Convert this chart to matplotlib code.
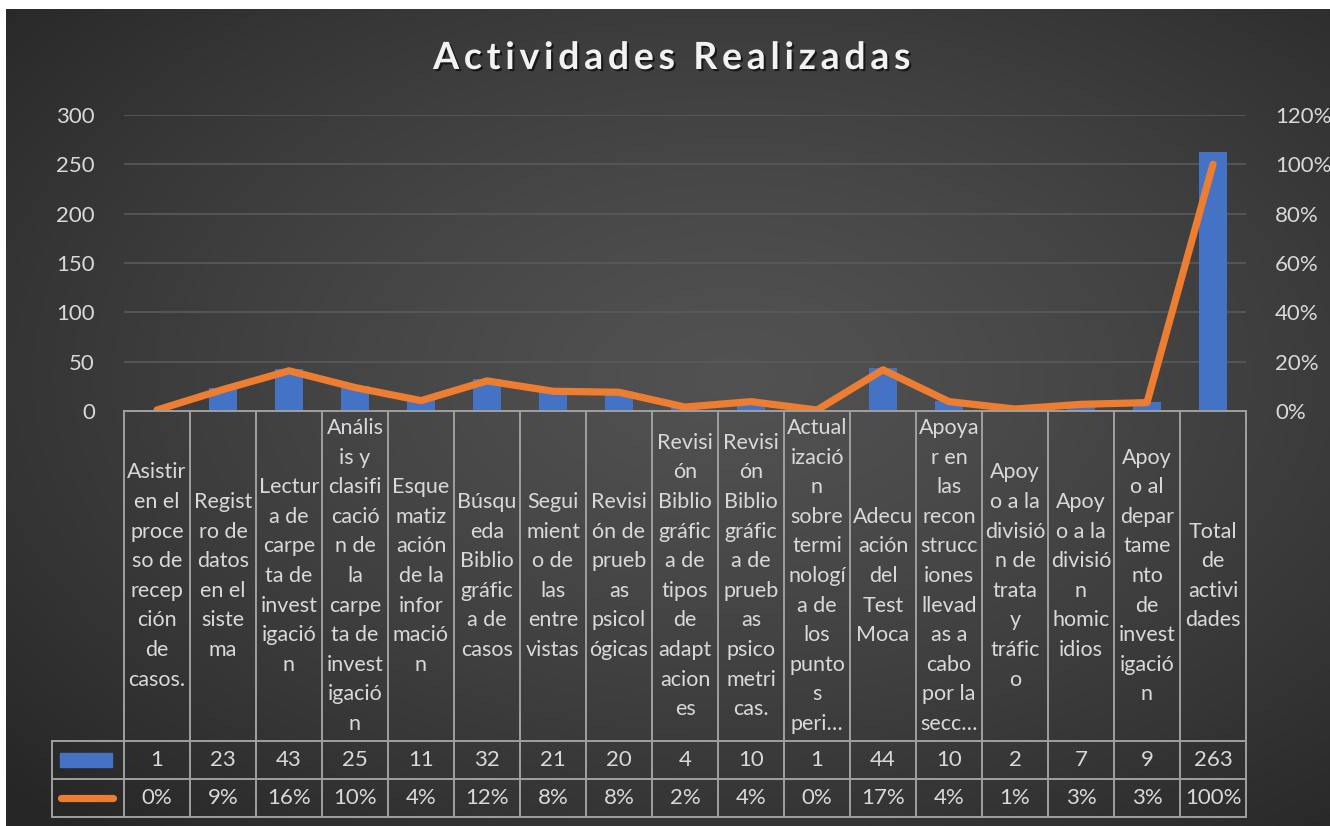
import numpy as np
import matplotlib
matplotlib.use("Agg")
import matplotlib.pyplot as plt
import matplotlib.patheffects as pe
from matplotlib.transforms import blended_transform_factory
from matplotlib.lines import Line2D
from matplotlib.patches import Rectangle

# datos
titulo = "Actividades Realizadas"
categorias = [
    "Asistir\nen el\nproce\nso de\nrecep\nción\nde\ncasos.",
    "Regist\nro de\ndatos\nen el\nsiste\nma",
    "Lectur\na de\ncarpe\nta de\ninvest\nigació\nn",
    "Anális\nis y\nclasifi\ncació\nn de\nla\ncarpe\nta de\ninvest\nigació\nn",
    "Esque\nmatiz\nación\nde la\ninfor\nmació\nn",
    "Búsqu\neda\nBiblio\ngráfic\na de\ncasos",
    "Segui\nmient\no de\nlas\nentre\nvistas",
    "Revisi\nón de\nprueb\nas\npsicol\nógicas",
    "Revisi\nón\nBiblio\ngráfic\na de\ntipos\nde\nadapt\nacion\nes",
    "Revisi\nón\nBiblio\ngráfic\na de\nprueb\nas\npsico\nmetri\ncas.",
    "Actual\nizació\nn\nsobre\ntermi\nnologí\na de\nlos\npunto\ns\nperi…",
    "Adecu\nación\ndel\nTest\nMoca",
    "Apoya\nr en\nlas\nrecon\nstrucc\niones\nllevad\nas a\ncabo\npor la\nsecc…",
    "Apoy\no a la\ndivisió\nn de\ntrata\ny\ntráfic\no",
    "Apoy\no a la\ndivisió\nn\nhomic\nidios",
    "Apoy\no al\ndepar\ntame\nnto\nde\ninvest\nigació\nn",
    "Total\nde\nactivi\ndades",
]
cantidades = [1, 23, 43, 25, 11, 32, 21, 20, 4, 10, 1, 44, 10, 2, 7, 9, 263]
porcentajes = [0.4, 8.7, 16.3, 9.51, 4.2, 12.2, 8.0, 7.6, 1.6, 3.8, 0.4,
               16.7, 3.8, 0.8, 2.7, 3.4, 100]

W, H = 1330, 826
fig = plt.figure(figsize=(W / 100, H / 100), dpi=100)
plt.rcParams["font.family"] = ["Lato", "DejaVu Sans"]
texto = "#d9d9d9"
linea_tabla = "#a0a0a0"

# fondo degradado
bg = fig.add_axes([6 / W, 0, 1 - 6 / W, 1 - 9 / H])
yy, xx = np.mgrid[0:1:400j, 0:1:600j]
r = np.sqrt(((xx - 0.55) / 0.75) ** 2 + ((yy - 0.45) / 0.75) ** 2)
r = np.clip(r, 0, 1)
c0, c1 = 0.32, 0.15
img = c0 + (c1 - c0) * r ** 1.3
bg.imshow(np.dstack([img, img, img]), aspect="auto", extent=[0, 1, 0, 1])
bg.axis("off")

# ejes principales
x0, x1, ytop, y0 = 124, 1246, 115, 411
ax = fig.add_axes([x0 / W, 1 - y0 / H, (x1 - x0) / W, (y0 - ytop) / H])
ax.patch.set_alpha(0)
x = np.arange(len(cantidades))
ax.bar(x, cantidades, width=0.42, color="#4472c4", zorder=3)
ax.set_xlim(-0.5, len(cantidades) - 0.5)
ax.set_ylim(0, 300)
ax.set_yticks(range(0, 301, 50))
ax.grid(axis="y", color="#5a5a5a", linewidth=1.2, zorder=0)
for s in ax.spines.values():
    s.set_visible(False)
ax.set_xticks([])
ax.tick_params(axis="y", length=0, pad=21, labelsize=16, labelcolor=texto)

ax2 = ax.twinx()
ax2.plot(x, porcentajes, color="#ed7d31", linewidth=5.2,
         solid_capstyle="round", solid_joinstyle="round", zorder=4)
ax2.set_ylim(0, 120)
ax2.set_yticks(range(0, 121, 20))
ax2.set_yticklabels([f"{v}%" for v in range(0, 121, 20)])
for s in ax2.spines.values():
    s.set_visible(False)
ax2.tick_params(axis="y", length=0, pad=21, labelsize=16, labelcolor=texto)

# título (espaciado entre letras con espacios finos)
titulo_esp = "  ".join("\u2009".join(p) for p in titulo.split())
fig.text(672 / W, 1 - 58 / H, titulo_esp, ha="center", va="center",
         fontsize=27, fontweight="bold", color="#f2f2f2",
         path_effects=[pe.withSimplePatchShadow(offset=(1.5, -1.5),
                                                shadow_rgbFace="black", alpha=0.6)])

# tabla de datos
fy = lambda py: 1 - py / H
fx = lambda px: px / W
r1, r2, r3 = 741, 779, 817
lw = 1.4
fig.add_artist(Line2D([fx(x0), fx(x1)], [fy(y0), fy(y0)], color=linea_tabla, lw=lw))
for yl in (r1, r2, r3):
    fig.add_artist(Line2D([fx(52), fx(x1)], [fy(yl), fy(yl)], color=linea_tabla, lw=lw))
fig.add_artist(Line2D([fx(52), fx(52)], [fy(r1), fy(r3)], color=linea_tabla, lw=lw))
paso = (x1 - x0) / len(cantidades)
for k in range(len(cantidades) + 1):
    xl = x0 + k * paso
    fig.add_artist(Line2D([fx(xl), fx(xl)], [fy(y0), fy(r3)], color=linea_tabla, lw=lw))

tr = blended_transform_factory(ax.transData, fig.transFigure)
for i, cat in enumerate(categorias):
    ax.text(i, fy((y0 + r1) / 2), cat, transform=tr, ha="center", va="center",
            ma="center", fontsize=15.5, color=texto, linespacing=1.6, clip_on=False)
    ax.text(i, fy((r1 + r2) / 2), str(cantidades[i]), transform=tr, ha="center",
            va="center", fontsize=16, color=texto, clip_on=False)
    ax.text(i, fy((r2 + r3) / 2), "%.0f%%" % porcentajes[i], transform=tr,
            ha="center", va="center", fontsize=16, color=texto, clip_on=False)

# claves de leyenda
fig.add_artist(Rectangle((fx(60), fy(767)), fx(52), 14 / H, color="#4472c4"))
fig.add_artist(Line2D([fx(61), fx(113)], [fy(798), fy(798)], color="#ed7d31",
                      lw=5.2, solid_capstyle="round"))

fig.savefig("out.png", dpi=100, facecolor="white")
